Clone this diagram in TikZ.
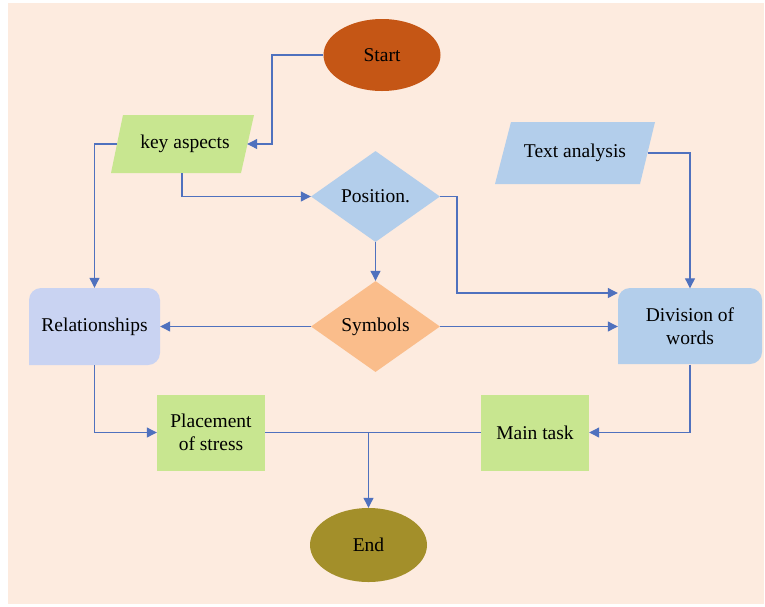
\documentclass[tikz,border=0pt]{standalone}
\usepackage{fontspec}
\setmainfont{Liberation Serif}
\usetikzlibrary{shapes.geometric,arrows.meta}
\definecolor{bgcol}{HTML}{FDEBDF}
\definecolor{linecol}{HTML}{4F71BE}
\definecolor{startcol}{HTML}{C55615}
\definecolor{endcol}{HTML}{A38F2A}
\definecolor{greencol}{HTML}{C8E690}
\definecolor{bluecol}{HTML}{B3CEEB}
\definecolor{lilaccol}{HTML}{C9D3F2}
\definecolor{orangecol}{HTML}{FABD8B}
\begin{document}
\begin{tikzpicture}[x=1pt,y=-1pt,
  every node/.style={font=\fontsize{19.5}{23}\selectfont, align=center, inner sep=0pt},
  termstyle/.style={ellipse, minimum width=117, minimum height=72},
  decstyle/.style={diamond, aspect=1.42, minimum width=129, minimum height=91},
  procstyle/.style={rectangle, minimum width=108, minimum height=76},
  link/.style={draw=linecol, line width=1.1pt, -{Triangle[length=10pt,width=10pt]}}]
  \useasboundingbox (0,0) rectangle (765,606);
  \fill[bgcol] (8,3) rectangle (764,604);

  \node[termstyle, fill=startcol] (start) at (382,55) {Start};
  \fill[greencol] (123,115) -- (254,115) -- (241,173) -- (111,173) -- cycle;
  \node (keys) [minimum width=130, minimum height=58] at (182,144) {\hspace*{6pt}key aspects};
  \fill[bluecol] (511,122) -- (655,122) -- (640,184) -- (495,184) -- cycle;
  \node (text) [minimum width=145, minimum height=62] at (575,153) {Text analysis};
  \node[decstyle, fill=bluecol] (pos) at (375.5,196.5) {Position.};
  \node[decstyle, fill=orangecol] (sym) at (375.5,326.5) {Symbols};
  \fill[lilaccol, rounded corners=12] (29,365) -- (29,288) -- (160,288) -- (160,365) [sharp corners] -- cycle;
  \node (rel) [minimum width=131, minimum height=77] at (94.5,326.5) {Relationships};
  \fill[bluecol, rounded corners=12] (618,364) -- (618,288) -- (762,288) -- (762,364) [sharp corners] -- cycle;
  \node (div) [minimum width=144, minimum height=76] at (690,326.5) {Division of\\words};
  \node[procstyle, fill=greencol] (place) at (211,432.5) {Placement\\of stress};
  \node[procstyle, fill=greencol] (task) at (535,432.5) {Main task};
  \node[termstyle, fill=endcol, minimum height=74] (end) at (368.5,545) {End};
  \coordinate (join) at (368.5,432.5);

  \draw[link] (start.west) -| (272,144) -- (keys.east);
  \draw[link] (keys.west) -| (rel.north);
  \draw[link] (keys.south) |- (pos.west);
  \draw[link] (pos.east) -| (457,293) -- (div.west |- 0,293);
  \draw[link] (pos.south) -- (sym.north);
  \draw[link] (text.east) -| (div.north);
  \draw[link] (sym.west) -- (rel.east);
  \draw[link] (sym.east) -- (div.west);
  \draw[link] (rel.south) |- (place.west);
  \draw[link] (div.south) |- (task.east);
  \draw[draw=linecol, line width=1.1pt] (place.east) -- (task.west);
  \draw[link] (join) -- (end.north);
\end{tikzpicture}
\end{document}
